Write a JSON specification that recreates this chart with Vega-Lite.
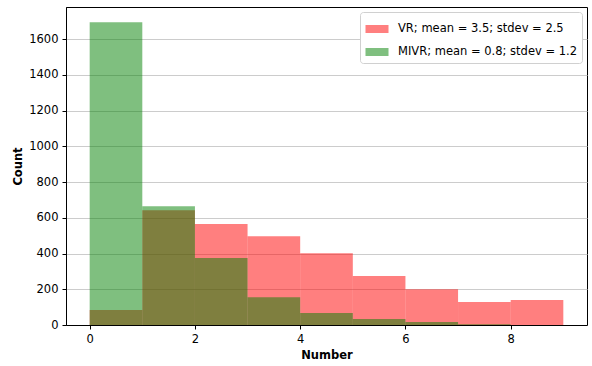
{
  "$schema": "https://vega.github.io/schema/vega-lite/v6.json",
  "autosize": {"type": "none"},
  "width": 521,
  "height": 318,
  "padding": {"left": 66, "top": 7, "right": 5, "bottom": 41},
  "background": "white",
  "config": {
    "font": "DejaVu Sans",
    "view": {"stroke": "black", "strokeWidth": 1},
    "axis": {
      "labelFont": "DejaVu Sans",
      "labelFontSize": 11.5,
      "labelColor": "black",
      "titleFont": "DejaVu Sans",
      "titleFontSize": 11.5,
      "titleFontWeight": "bold",
      "titleColor": "black",
      "domainColor": "black",
      "tickColor": "black",
      "tickSize": 4,
      "labelPadding": 4
    }
  },
  "data": {
    "values": [
      {"series": "VR; mean = 3.5; stdev = 2.5", "bin_start": 0, "bin_end": 1, "count": 84},
      {"series": "VR; mean = 3.5; stdev = 2.5", "bin_start": 1, "bin_end": 2, "count": 643},
      {"series": "VR; mean = 3.5; stdev = 2.5", "bin_start": 2, "bin_end": 3, "count": 565},
      {"series": "VR; mean = 3.5; stdev = 2.5", "bin_start": 3, "bin_end": 4, "count": 497},
      {"series": "VR; mean = 3.5; stdev = 2.5", "bin_start": 4, "bin_end": 5, "count": 401},
      {"series": "VR; mean = 3.5; stdev = 2.5", "bin_start": 5, "bin_end": 6, "count": 274},
      {"series": "VR; mean = 3.5; stdev = 2.5", "bin_start": 6, "bin_end": 7, "count": 200},
      {"series": "VR; mean = 3.5; stdev = 2.5", "bin_start": 7, "bin_end": 8, "count": 129},
      {"series": "VR; mean = 3.5; stdev = 2.5", "bin_start": 8, "bin_end": 9, "count": 140},
      {"series": "MIVR; mean = 0.8; stdev = 1.2", "bin_start": 0, "bin_end": 1, "count": 1694},
      {"series": "MIVR; mean = 0.8; stdev = 1.2", "bin_start": 1, "bin_end": 2, "count": 665},
      {"series": "MIVR; mean = 0.8; stdev = 1.2", "bin_start": 2, "bin_end": 3, "count": 375},
      {"series": "MIVR; mean = 0.8; stdev = 1.2", "bin_start": 3, "bin_end": 4, "count": 156},
      {"series": "MIVR; mean = 0.8; stdev = 1.2", "bin_start": 4, "bin_end": 5, "count": 67},
      {"series": "MIVR; mean = 0.8; stdev = 1.2", "bin_start": 5, "bin_end": 6, "count": 34},
      {"series": "MIVR; mean = 0.8; stdev = 1.2", "bin_start": 6, "bin_end": 7, "count": 17},
      {"series": "MIVR; mean = 0.8; stdev = 1.2", "bin_start": 7, "bin_end": 8, "count": 4},
      {"series": "MIVR; mean = 0.8; stdev = 1.2", "bin_start": 8, "bin_end": 9, "count": 0}
    ]
  },
  "mark": {"type": "rect", "opacity": 0.5},
  "encoding": {
    "x": {
      "field": "bin_start",
      "type": "quantitative",
      "title": "Number",
      "scale": {"domain": [-0.45, 9.45], "nice": false, "zero": false},
      "axis": {"values": [0, 2, 4, 6, 8], "grid": false, "titlePadding": 5}
    },
    "x2": {"field": "bin_end"},
    "y": {
      "field": "count",
      "type": "quantitative",
      "title": "Count",
      "scale": {"domain": [0, 1780], "nice": false},
      "axis": {
        "values": [0, 200, 400, 600, 800, 1000, 1200, 1400, 1600],
        "format": "d",
        "grid": true,
        "gridColor": "#cccccc",
        "gridWidth": 1,
        "titlePadding": 5
      }
    },
    "y2": {"datum": 0},
    "color": {
      "field": "series",
      "type": "nominal",
      "sort": null,
      "scale": {
        "domain": ["VR; mean = 3.5; stdev = 2.5", "MIVR; mean = 0.8; stdev = 1.2"],
        "range": ["#ff0000", "#008000"]
      },
      "legend": {
        "title": null,
        "orient": "top-right",
        "offset": 5,
        "padding": 5,
        "fillColor": "white",
        "strokeColor": "#d0d0d0",
        "cornerRadius": 3,
        "labelFont": "DejaVu Sans",
        "labelFontSize": 11.5,
        "labelColor": "black",
        "labelLimit": 400,
        "rowPadding": 5,
        "labelOffset": 9,
        "symbolType": "M-1,-0.35H1V0.35H-1Z",
        "symbolSize": 530,
        "symbolStrokeWidth": 0,
        "symbolOpacity": 0.5
      }
    }
  }
}
